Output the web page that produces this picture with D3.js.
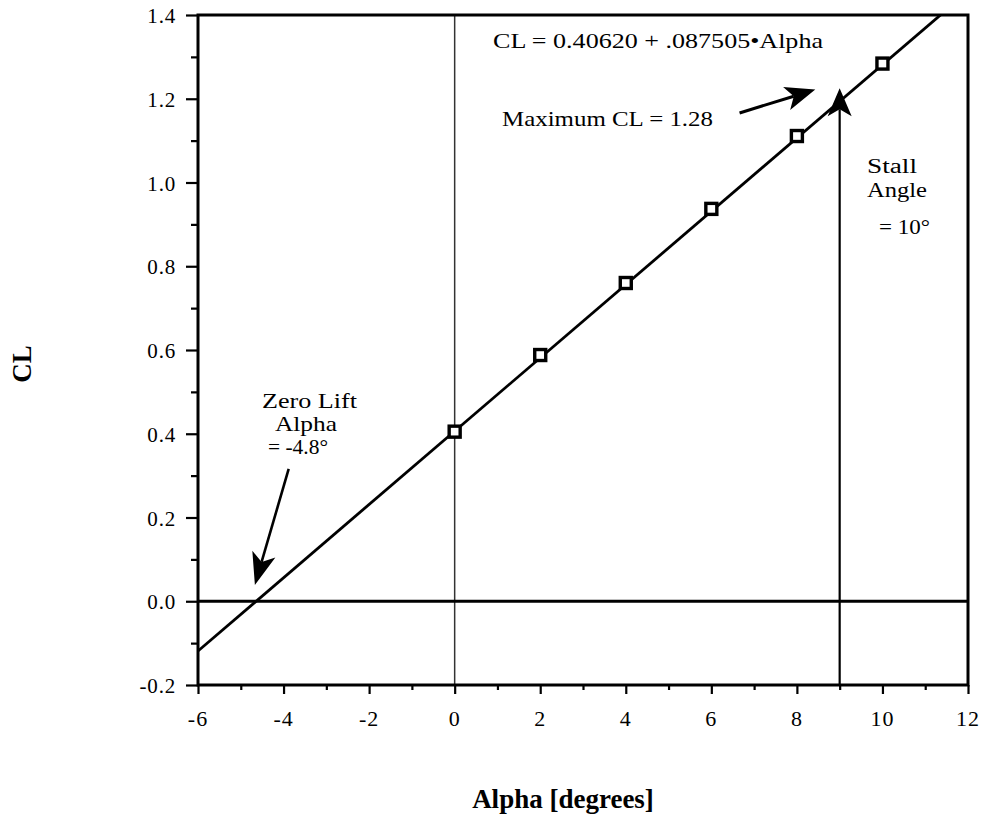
<!DOCTYPE html>
<html>
<head>
<meta charset="utf-8">
<script src="https://cdn.jsdelivr.net/npm/d3@7"></script>
<style>
  body { margin: 0; background: #fff; }
  svg text { font-family: "Liberation Serif", "DejaVu Serif", serif; fill: #000; }
</style>
</head>
<body>
<div id="chart"></div>
<script>
// measured points
const alphaValues = [0, 2, 4, 6, 8, 10];
const clValues = [0.405, 0.588, 0.760, 0.937, 1.111, 1.284];
// fitted line
const fitIntercept = 0.40620;
const fitSlope = 0.087505;
const xTicks = [-6, -4, -2, 0, 2, 4, 6, 8, 10, 12];
const yTicks = [-0.2, 0.0, 0.2, 0.4, 0.6, 0.8, 1.0, 1.2, 1.4];

const width = 984, height = 823;
const margin = { top: 15, right: 16, bottom: 138, left: 198 };

const svg = d3.select('#chart').append('svg')
  .attr('width', width)
  .attr('height', height);

const x = d3.scaleLinear().domain([-6, 12]).range([margin.left, width - margin.right]);
const y = d3.scaleLinear().domain([-0.2, 1.4]).range([height - margin.bottom, margin.top]);

svg.append('defs').append('clipPath').attr('id', 'plotClip')
  .append('rect')
  .attr('x', x(-6)).attr('y', y(1.4))
  .attr('width', x(12) - x(-6)).attr('height', y(-0.2) - y(1.4));

// vertical reference at alpha = 0
svg.append('line')
  .attr('x1', x(0)).attr('x2', x(0))
  .attr('y1', y(-0.2)).attr('y2', y(1.4))
  .attr('stroke', '#333').attr('stroke-width', 1.5);

// zero CL line
svg.append('line')
  .attr('x1', x(-6)).attr('x2', x(12))
  .attr('y1', y(0)).attr('y2', y(0))
  .attr('stroke', '#000').attr('stroke-width', 2.8);

// axes with outward ticks
const isMajor = (d, step) => Math.abs(Math.round(d / step)) % 2 === 0;
const xAxis = d3.axisBottom(x).tickValues(d3.range(-6, 13, 1)).tickSize(6).tickFormat('');
svg.append('g').attr('transform', `translate(0,${y(-0.2)})`).call(xAxis)
  .call(g => g.select('.domain').remove())
  .call(g => g.selectAll('line').attr('stroke-width', 2.2)
    .attr('y2', d => isMajor(d + 6, 1) ? 9 : 5));

const yAxis = d3.axisLeft(y).tickValues(d3.range(-0.2, 1.41, 0.1)).tickSize(7).tickFormat('');
svg.append('g').attr('transform', `translate(${x(-6)},0)`).call(yAxis)
  .call(g => g.select('.domain').remove())
  .call(g => g.selectAll('line').attr('stroke-width', 2.2)
    .attr('x2', d => isMajor(d, 0.1) ? -12 : -7));

// tick labels
svg.append('g').selectAll('text').data(xTicks).join('text')
  .attr('x', d => x(d)).attr('y', y(-0.2) + 41)
  .attr('text-anchor', 'middle')
  .attr('font-size', 22).attr('letter-spacing', 1)
  .text(d => d);

svg.append('g').selectAll('text').data(yTicks).join('text')
  .attr('x', x(-6) - 22).attr('y', d => y(d) + 8)
  .attr('text-anchor', 'end')
  .attr('font-size', 21).attr('letter-spacing', 0.8)
  .text(d => d.toFixed(1));

// frame
svg.append('rect')
  .attr('x', x(-6)).attr('y', y(1.4))
  .attr('width', x(12) - x(-6)).attr('height', y(-0.2) - y(1.4))
  .attr('fill', 'none').attr('stroke', '#000').attr('stroke-width', 3);

// fitted line
const fitLine = d3.line().x(d => x(d)).y(d => y(fitIntercept + fitSlope * d));
svg.append('path')
  .datum([-6, 12])
  .attr('clip-path', 'url(#plotClip)')
  .attr('d', fitLine)
  .attr('fill', 'none').attr('stroke', '#000').attr('stroke-width', 2.8);

// data squares
svg.append('g').selectAll('rect').data(alphaValues).join('rect')
  .attr('x', d => x(d) - 5.5)
  .attr('y', (d, i) => y(clValues[i]) - 5.5)
  .attr('width', 11).attr('height', 11)
  .attr('fill', '#fff').attr('stroke', '#000').attr('stroke-width', 3.4);

// arrows
function arrow(x0, y0, x1, y1, headLen, headWidth, lineWidth) {
  const px0 = x(x0), py0 = y(y0), px1 = x(x1), py1 = y(y1);
  const ang = Math.atan2(py1 - py0, px1 - px0);
  const c = Math.cos(ang), s = Math.sin(ang);
  const bx = px1 - headLen * c, by = py1 - headLen * s;
  const nx = -s * headWidth / 2, ny = c * headWidth / 2;
  const notchX = bx + 0.25 * headLen * c, notchY = by + 0.25 * headLen * s;
  svg.append('line')
    .attr('x1', px0).attr('y1', py0).attr('x2', notchX).attr('y2', notchY)
    .attr('stroke', '#000').attr('stroke-width', lineWidth);
  svg.append('path')
    .attr('d', `M${px1},${py1}L${bx + nx},${by + ny}L${notchX},${notchY}L${bx - nx},${by - ny}Z`)
    .attr('fill', '#000');
}

arrow(9, -0.2, 9, 1.225, 28, 24, 2.2);
arrow(6.66, 1.166, 8.43, 1.222, 30, 24, 3);
arrow(-3.88, 0.316, -4.67, 0.039, 32, 24, 2.6);

// annotation text
svg.append('text').attr('x', 493).attr('y', 48).attr('font-size', 22)
  .attr('textLength', 330).attr('lengthAdjust', 'spacingAndGlyphs')
  .text('CL = 0.40620 + .087505\u2022Alpha');
svg.append('text').attr('x', 502).attr('y', 126).attr('font-size', 21)
  .attr('textLength', 211).attr('lengthAdjust', 'spacingAndGlyphs')
  .text('Maximum CL = 1.28');

const stall = svg.append('text').attr('font-size', 20);
stall.append('tspan').attr('x', 867).attr('y', 173).attr('textLength', 50).attr('lengthAdjust', 'spacingAndGlyphs').text('Stall');
stall.append('tspan').attr('x', 867).attr('y', 197).attr('textLength', 60).attr('lengthAdjust', 'spacingAndGlyphs').text('Angle');
stall.append('tspan').attr('x', 879).attr('y', 234).attr('textLength', 51).attr('lengthAdjust', 'spacingAndGlyphs').text('= 10°');

const zero = svg.append('text').attr('font-size', 21);
zero.append('tspan').attr('x', 262).attr('y', 408).attr('textLength', 95).attr('lengthAdjust', 'spacingAndGlyphs').text('Zero Lift');
zero.append('tspan').attr('x', 275).attr('y', 431).attr('textLength', 62).attr('lengthAdjust', 'spacingAndGlyphs').text('Alpha');
zero.append('tspan').attr('x', 268).attr('y', 454).attr('textLength', 60).attr('lengthAdjust', 'spacingAndGlyphs').text('= -4.8°');

// axis titles
svg.append('text')
  .attr('transform', `translate(31,${364}) rotate(-90)`)
  .attr('text-anchor', 'middle')
  .attr('font-size', 27).attr('font-weight', 'bold')
  .text('CL');

svg.append('text')
  .attr('x', 563).attr('y', 808)
  .attr('text-anchor', 'middle')
  .attr('font-size', 27).attr('font-weight', 'bold')
  .text('Alpha [degrees]');
</script>
</body>
</html>
